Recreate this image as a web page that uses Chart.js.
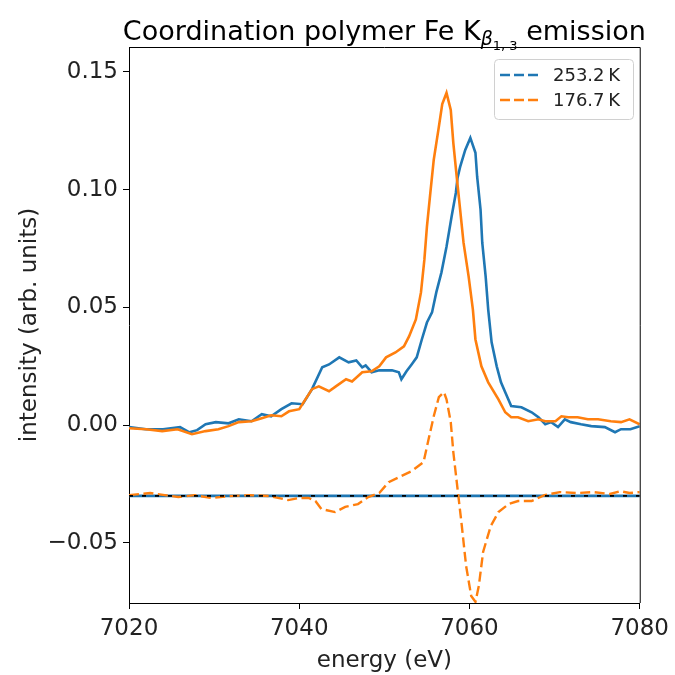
<!DOCTYPE html>
<html>
<head>
<meta charset="utf-8">
<script src="https://cdn.jsdelivr.net/npm/chart.js@4/dist/chart.umd.min.js"></script>
<style>
  body { margin: 0; background: #fff; }
  #wrap { width: 675px; height: 675px; }
</style>
</head>
<body>
<div id="wrap"><canvas id="emission" width="675" height="675"></canvas></div>
<script>
// values
const seriesLabels = ['253.2\u2009K', '176.7\u2009K'];
const titleParts = ['Coordination polymer Fe K', '\u03B2', '1, 3', ' emission'];

const energyBlue = [7020.0, 7022.0, 7024.0, 7026.0, 7027.1, 7028.0, 7029.0, 7030.2, 7031.7, 7032.9,
  7034.4, 7035.6, 7036.7, 7037.9, 7039.1, 7040.4, 7041.5, 7042.7, 7043.5, 7044.7,
  7045.8, 7046.7, 7047.4, 7047.8, 7048.5, 7049.4, 7050.9, 7051.7, 7052.0, 7052.6,
  7053.2, 7053.8, 7054.4, 7055.0, 7055.6, 7056.1, 7056.7, 7057.3, 7057.9, 7058.4,
  7058.6, 7058.9, 7059.5, 7060.1, 7060.7, 7060.9, 7061.3, 7061.5, 7061.9, 7062.2,
  7062.6, 7063.2, 7063.7, 7064.2, 7064.9, 7066.1, 7067.3, 7068.1, 7068.9, 7069.6,
  7070.4, 7071.2, 7071.9, 7073.1, 7074.3, 7075.9, 7077.1, 7077.8, 7078.9, 7080.0];
const intensityBlue = [-0.0008, -0.0017, -0.0017, -0.0008, -0.0030, -0.0021, 0.0004, 0.0013, 0.0008, 0.0025,
  0.0017, 0.0047, 0.0038, 0.0068, 0.0093, 0.0089, 0.0153, 0.0246, 0.0258, 0.0288,
  0.0267, 0.0275, 0.0246, 0.0254, 0.0225, 0.0233, 0.0233, 0.0225, 0.0195, 0.0229,
  0.0258, 0.0288, 0.0364, 0.0436, 0.0479, 0.0564, 0.0648, 0.0758, 0.0886, 0.0987,
  0.1051, 0.1097, 0.1169, 0.1220, 0.1157, 0.1055, 0.0915, 0.0775, 0.0631, 0.0491,
  0.0352, 0.0250, 0.0182, 0.0140, 0.0081, 0.0076, 0.0055, 0.0034, 0.0004, 0.0013,
  -0.0008, 0.0025, 0.0013, 0.0004, -0.0004, -0.0008, -0.0030, -0.0017, -0.0017, -0.0004];

const energyOrange = [7020.0, 7022.0, 7023.9, 7025.7, 7027.4, 7029.0, 7030.5, 7031.7, 7032.9, 7034.4,
  7035.6, 7036.7, 7037.9, 7038.8, 7040.0, 7041.5, 7042.3, 7043.5, 7044.3, 7045.5,
  7046.2, 7047.4, 7048.5, 7049.4, 7050.2, 7051.3, 7052.3, 7052.9, 7053.7, 7054.3,
  7054.7, 7055.0, 7055.4, 7055.8, 7056.4, 7056.8, 7057.3, 7057.8, 7058.1, 7058.5,
  7058.9, 7059.3, 7059.9, 7060.4, 7060.7, 7061.4, 7062.2, 7063.4, 7064.2, 7064.9,
  7065.7, 7066.9, 7068.1, 7068.9, 7070.1, 7070.8, 7071.6, 7072.7, 7073.9, 7075.1,
  7076.6, 7077.8, 7078.8, 7080.0];
const intensityOrange = [-0.0013, -0.0017, -0.0025, -0.0017, -0.0038, -0.0025, -0.0017, -0.0004, 0.0013, 0.0017,
  0.0030, 0.0042, 0.0038, 0.0059, 0.0068, 0.0153, 0.0165, 0.0144, 0.0165, 0.0195,
  0.0186, 0.0225, 0.0229, 0.0250, 0.0288, 0.0309, 0.0335, 0.0377, 0.0449, 0.0564,
  0.0703, 0.0843, 0.0987, 0.1127, 0.1267, 0.1364, 0.1411, 0.1339, 0.1199, 0.1055,
  0.0915, 0.0775, 0.0631, 0.0491, 0.0364, 0.0250, 0.0182, 0.0110, 0.0055, 0.0034,
  0.0034, 0.0017, 0.0025, 0.0017, 0.0017, 0.0038, 0.0034, 0.0034, 0.0025, 0.0025,
  0.0017, 0.0013, 0.0025, 0.0004];

// difference curves, drawn with an offset of -0.03
const energyDiff = [7020.0, 7022.5, 7024.2, 7025.8, 7027.7, 7029.7, 7031.8, 7034.2, 7036.5, 7038.7,
  7040.0, 7041.1, 7041.9, 7042.6, 7044.2, 7045.4, 7046.9, 7048.1, 7049.4, 7050.5,
  7052.0, 7053.2, 7054.6, 7055.2, 7055.8, 7056.4, 7057.0, 7057.3, 7057.8, 7058.1,
  7058.6, 7059.1, 7059.6, 7060.2, 7060.7, 7061.1, 7061.6, 7062.5, 7063.4, 7064.6,
  7065.7, 7067.3, 7068.8, 7070.6, 7072.6, 7074.6, 7076.5, 7077.7, 7078.8, 7080.0];
const diffOrange = [-0.0297, -0.0288, -0.0297, -0.0305, -0.0297, -0.0309, -0.0301, -0.0297, -0.0301, -0.0318,
  -0.0309, -0.0309, -0.0322, -0.0356, -0.0369, -0.0347, -0.0335, -0.0305, -0.0288, -0.0242,
  -0.0216, -0.0195, -0.0157, -0.0059, 0.0038, 0.0119, 0.0140, 0.0110, 0.0013, -0.0114,
  -0.0271, -0.0428, -0.0597, -0.0725, -0.0750, -0.0682, -0.0538, -0.0428, -0.0369, -0.0335,
  -0.0322, -0.0322, -0.0297, -0.0284, -0.0288, -0.0284, -0.0292, -0.0280, -0.0288, -0.0284];
const energyBlueDiff = [7020, 7080];
const diffBlue = [-0.03, -0.03];
const baselineY = [-0.03, -0.03];

const xTicks = [7020, 7040, 7060, 7080];
const yTicks = [-0.05, 0.00, 0.05, 0.10, 0.15];

const BLUE = '#1f77b4';
const ORANGE = '#ff7f0e';
const FONT = '"DejaVu Sans", sans-serif';

const toPoints = (xs, ys) => xs.map((x, i) => ({ x, y: ys[i] }));

const frameAndTitle = {
    id: 'frameAndTitle',
    afterDraw(chart) {
        const ctx = chart.ctx;
        const { left, right, top, bottom } = chart.chartArea;
        ctx.save();
        // top and right spines
        ctx.strokeStyle = '#000';
        ctx.lineWidth = 1;
        ctx.beginPath();
        ctx.moveTo(left, top + 0.5);
        ctx.lineTo(right + 0.5, top + 0.5);
        ctx.lineTo(right + 0.5, bottom);
        ctx.stroke();

        // title with subscript
        const fonts = ['27px ' + FONT, 'italic 19px ' + FONT, '13px ' + FONT, '27px ' + FONT];
        const drops = [0, 5, 10, 0];
        let widths = titleParts.map((t, i) => { ctx.font = fonts[i]; return ctx.measureText(t).width; });
        let total = widths.reduce((a, b) => a + b, 0);
        let x = (left + right) / 2 - total / 2;
        const base = 40;
        ctx.fillStyle = '#000';
        ctx.textBaseline = 'alphabetic';
        ctx.textAlign = 'left';
        titleParts.forEach((t, i) => {
            ctx.font = fonts[i];
            ctx.fillText(t, x, base + drops[i]);
            x += widths[i];
        });

        // legend
        const bx = 494, by = 59, bw = 139, bh = 60;
        ctx.fillStyle = 'rgba(255,255,255,0.8)';
        ctx.strokeStyle = '#d0d0d0';
        ctx.beginPath();
        ctx.roundRect(bx + 0.5, by + 0.5, bw, bh, 4);
        ctx.fill();
        ctx.stroke();
        const colors = [BLUE, ORANGE];
        ctx.font = '18px ' + FONT;
        ctx.textBaseline = 'middle';
        seriesLabels.forEach((lab, i) => {
            const ly = 75 + i * 25;
            ctx.strokeStyle = colors[i];
            ctx.lineWidth = 2.5;
            ctx.setLineDash([10, 4]);
            ctx.beginPath();
            ctx.moveTo(500, ly);
            ctx.lineTo(538, ly);
            ctx.stroke();
            ctx.setLineDash([]);
            ctx.fillStyle = '#222';
            ctx.fillText(lab, 553, ly + 1);
        });
        ctx.restore();
    }
};

new Chart(document.getElementById('emission'), {
    type: 'line',
    data: {
        datasets: [{
            label: 'baseline',
            data: toPoints(energyBlueDiff, baselineY),
            borderColor: '#000',
            borderWidth: 1.8,
            borderDash: [4, 9],
            order: 0
        }, {
            label: seriesLabels[1] + ' diff',
            data: toPoints(energyDiff, diffOrange),
            borderColor: ORANGE,
            borderWidth: 2.4,
            borderDash: [10, 4.5],
            order: 1
        }, {
            label: seriesLabels[0] + ' diff',
            data: toPoints(energyBlueDiff, diffBlue),
            borderColor: BLUE,
            borderWidth: 2.6,
            order: 2
        }, {
            label: seriesLabels[1],
            data: toPoints(energyOrange, intensityOrange),
            borderColor: ORANGE,
            borderWidth: 2.6,
            order: 3
        }, {
            label: seriesLabels[0],
            data: toPoints(energyBlue, intensityBlue),
            borderColor: BLUE,
            borderWidth: 2.6,
            order: 4
        }]
    },
    options: {
        responsive: false,
        animation: false,
        elements: { point: { radius: 0 }, line: { tension: 0, fill: false } },
        layout: { padding: { top: 47, right: 33, left: 0, bottom: 0 } },
        plugins: { legend: { display: false }, title: { display: false }, tooltip: { enabled: false } },
        scales: {
            x: {
                type: 'linear',
                min: 7020,
                max: 7080,
                afterFit: scale => { scale.height = 72; },
                afterBuildTicks: scale => { scale.ticks = xTicks.map(v => ({ value: v })); },
                grid: { drawOnChartArea: false, drawTicks: true, tickLength: 6, tickColor: '#000' },
                border: { display: true, color: '#000', width: 1 },
                ticks: {
                    color: '#222', padding: 6, maxRotation: 0,
                    font: { family: FONT, size: 23 },
                    callback: v => String(v)
                },
                title: {
                    display: true, text: 'energy (eV)', color: '#222',
                    font: { family: FONT, size: 23 }, padding: { top: 2, bottom: 0 }
                }
            },
            y: {
                min: -0.0755,
                max: 0.1606,
                afterFit: scale => { scale.width = 129; },
                afterBuildTicks: scale => { scale.ticks = yTicks.map(v => ({ value: v })); },
                grid: { drawOnChartArea: false, drawTicks: true, tickLength: 6, tickColor: '#000' },
                border: { display: true, color: '#000', width: 1 },
                ticks: {
                    color: '#222', padding: 5,
                    font: { family: FONT, size: 23 },
                    callback: v => (v < 0 ? '\u2212' : '') + Math.abs(v).toFixed(2)
                },
                title: {
                    display: true, text: 'intensity (arb. units)', color: '#222',
                    font: { family: FONT, size: 23 }, padding: { top: 16, bottom: 0 }
                }
            }
        }
    },
    plugins: [frameAndTitle]
});
</script>
</body>
</html>
